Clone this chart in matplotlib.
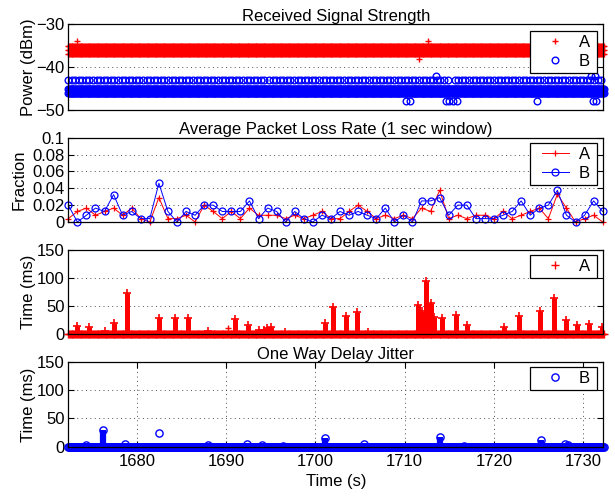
import matplotlib.pyplot as plt
import numpy as np
from matplotlib.legend_handler import HandlerLine2D
from matplotlib.lines import Line2D

plt.rcParams['font.family'] = ['Liberation Sans', 'DejaVu Sans']
plt.rcParams['font.size'] = 12

# time axis (s)
t_start, t_end = 1672.3, 1732.3
sample_dt = 0.1  # sample period of the dense traces
x_limits = (1672.33, 1732.24)
x_ticks = [1680, 1690, 1700, 1710, 1720, 1730]

# received signal strength (dBm)
rss_a_levels = [-35, -36, -37]
rss_a_extra_t = [1673.3, 1711.6, 1712.6]
rss_a_extra_v = [-34, -38, -34]
rss_b_levels = [-45, -46]
rss_b_43_spans = [(1672.3, 1694.4), (1694.8, 1714.9), (1715.6, 1732.3)]
rss_b_extra_t = [1710.2, 1710.6, 1714.6, 1715.0, 1715.4, 1715.9, 1724.8, 1731.1, 1731.4,
                 1713.5, 1730.9, 1731.3]
rss_b_extra_v = [-48, -48, -48, -48, -48, -48, -48, -48, -48,
                 -42, -42, -42]

# packet loss rate, 1 s windows
loss_a = [0.004, 0.0125, 0.0165, 0.008, 0.0125, 0.0165, 0.008, 0.0165, 0.004, 0.0,
          0.029, 0.004, 0.004, 0.008, 0.0, 0.020, 0.0125, 0.004, 0.0125, 0.004,
          0.0165, 0.008, 0.008, 0.008, 0.004, 0.008, 0.004, 0.008, 0.0125, 0.004,
          0.004, 0.0125, 0.020, 0.0125, 0.004, 0.008, 0.004, 0.008, 0.004, 0.0165,
          0.0125, 0.0376, 0.004, 0.008, 0.004, 0.008, 0.008, 0.004, 0.0125, 0.004,
          0.008, 0.0125, 0.0165, 0.004, 0.033, 0.0165, 0.0, 0.004, 0.008, 0.0]
loss_b = [0.020, 0.0, 0.008, 0.0165, 0.0125, 0.0325, 0.008, 0.0125, 0.004, 0.004,
          0.046, 0.0125, 0.0, 0.0125, 0.008, 0.020, 0.020, 0.0125, 0.0125, 0.0125,
          0.025, 0.004, 0.0165, 0.0125, 0.0, 0.0125, 0.004, 0.0, 0.008, 0.004,
          0.0125, 0.008, 0.0125, 0.008, 0.004, 0.0165, 0.0, 0.008, 0.0, 0.025,
          0.025, 0.029, 0.008, 0.020, 0.020, 0.004, 0.004, 0.004, 0.008, 0.0125,
          0.025, 0.008, 0.0165, 0.020, 0.0376, 0.008, 0.0, 0.008, 0.025, 0.0125]
loss_t = np.linspace(1672.33, 1732.17, len(loss_a))

# one way delay jitter (ms): bursts above the ~0 baseline
jit_a_t = [1673.3, 1674.65, 1676.4, 1677.45, 1678.95, 1682.5, 1684.25, 1685.75, 1688.0,
           1691.0, 1692.4, 1693.7, 1694.2, 1694.6, 1695.0, 1696.6, 1701.07, 1702.0,
           1703.4, 1704.7, 1705.9, 1711.5, 1711.9, 1712.36, 1712.95, 1713.3, 1714.2,
           1715.8, 1716.95, 1721.1, 1722.75, 1725.2, 1726.7, 1728.05, 1729.3, 1730.6,
           1732.1]
jit_a_peak = [13, 11, 4, 19, 72, 27, 28, 27, 5,
              26, 16, 6, 6, 9, 12, 3, 18, 48,
              31, 38, 3, 51, 40, 94, 55, 30, 28,
              34, 16, 12, 31, 40, 64, 25, 16, 17,
              12]
jit_a_pt_t = [1690.2]
jit_a_pt_v = [9]

jit_b_t = [1676.2, 1701.07, 1713.96, 1725.3]
jit_b_peak = [30, 15, 18, 12]
jit_b_pt_t = [1682.5, 1674.3, 1678.7, 1688.0, 1692.3, 1694.0, 1696.4, 1705.4, 1716.6,
              1727.9, 1728.3]
jit_b_pt_v = [24, 3, 4, 3, 5, 3, 2, 4, 2, 4, 3]

red = (1, 0, 0)
blue = (0, 0, 1)
ms = 5
ms_o = 4.8
fig = plt.figure(figsize=(6.15, 4.96), dpi=100)

left, width = 68.3 / 615, 535 / 615
rects = [(24.3, 110.0), (137.7, 222.0), (250.0, 333.5), (362.0, 446.7)]
axes = [fig.add_axes([left, (496 - b) / 496, width, (b - t) / 496]) for t, b in rects]


def style_axis(ax, grid_x=False):
    ax.set_xlim(*x_limits)
    for s in ax.spines.values():
        s.set_linewidth(0.9)
    ax.tick_params(direction='in', length=4, width=0.8, top=True, right=True,
                   labelsize=12, pad=2.5)
    ax.tick_params(axis='x', pad=5)
    ax.grid(True, axis='both' if grid_x else 'y', linestyle=(0, (1, 3.5)),
            linewidth=0.7, color='0.3')
    if not grid_x:
        ax.set_xticks([])
    else:
        ax.set_xticks(x_ticks)


def add_legend(ax, handles, labels, top):
    leg = ax.legend(handles, labels, loc='upper left', bbox_to_anchor=(0.863, 0, 0.126, top),
                    mode='expand', borderaxespad=0, borderpad=0.25, labelspacing=0.25,
                    handlelength=2.08, handletextpad=0.58, fancybox=False,
                    framealpha=1, edgecolor='k', fontsize=12,
                    handler_map={Line2D: HandlerLine2D(xpad=0.44)})
    leg.get_frame().set_linewidth(0.9)
    return leg


# --- received signal strength
ax = axes[0]
rss_t = np.arange(t_start, t_end + 0.01, sample_dt)
ha = None
for lv in rss_a_levels:
    ha, = ax.plot(rss_t, np.full(rss_t.shape, lv), '+', color=red, ms=ms, mew=1.0, clip_on=False)
ax.plot(rss_a_extra_t, rss_a_extra_v, '+', color=red, ms=ms, mew=1.0, clip_on=False)
for t0, t1 in rss_b_43_spans:
    tt = np.arange(t0, t1, 4 * sample_dt)
    ax.plot(tt, np.full(tt.shape, -43), 'o', color=blue, mfc='none', ms=ms_o, mew=1.0, clip_on=False)
hb = None
for lv in rss_b_levels:
    hb, = ax.plot(rss_t, np.full(rss_t.shape, lv), 'o', color=blue, mfc='none', ms=ms_o, mew=1.0,
                  clip_on=False)
ax.plot(rss_b_extra_t, rss_b_extra_v, 'o', color=blue, mfc='none', ms=ms_o, mew=1.0, clip_on=False)
ax.set_ylim(-50, -30)
ax.set_yticks([-50, -40, -30])
style_axis(ax)
ax.set_ylabel('Power (dBm)')
ax.yaxis.set_label_coords(-0.061, 0.5)
ax.set_title('Received Signal Strength', fontsize=12, pad=2.5)
add_legend(ax, [ha, hb], ['A', 'B'], 0.922)

# --- packet loss rate
ax = axes[1]
la, = ax.plot(loss_t, loss_a, '-+', color=red, lw=0.7, ms=5, mew=0.9, clip_on=False)
lb, = ax.plot(loss_t, loss_b, '-o', color=blue, lw=0.7, ms=5, mew=0.9, mfc='none', clip_on=False)
ax.set_ylim(0, 0.1)
ax.set_yticks([0, 0.02, 0.04, 0.06, 0.08, 0.1])
ax.set_yticklabels(['0', '0.02', '0.04', '0.06', '0.08', '0.1'])
style_axis(ax)
ax.set_ylabel('Fraction')
ax.yaxis.set_label_coords(-0.077, 0.5)
ax.set_title('Average Packet Loss Rate (1 sec window)', fontsize=12, pad=2.5)
add_legend(ax, [la, lb], ['A', 'B'], 0.941)

# --- jitter A
ax = axes[2]
ja, = ax.plot(rss_t, np.zeros(rss_t.shape), '+', color=red, ms=5.5, mew=1.0, clip_on=False)
ax.vlines(jit_a_t, 0, jit_a_peak, color=red, lw=3.6)
ax.plot(jit_a_t, jit_a_peak, '+', color=red, ms=ms + 1, mew=1.2)
ax.plot(jit_a_pt_t, jit_a_pt_v, '+', color=red, ms=ms, mew=1.0)
ax.set_ylim(0, 150)
ax.set_yticks([0, 50, 100, 150])
style_axis(ax)
ax.set_ylabel('Time (ms)')
ax.yaxis.set_label_coords(-0.061, 0.5)
ax.set_title('One Way Delay Jitter', fontsize=12, pad=2.5)
add_legend(ax, [ja], ['A'], 0.94)

# --- jitter B
ax = axes[3]
jb, = ax.plot(rss_t, np.zeros(rss_t.shape), 'o', color=blue, mfc='none', ms=5.2, mew=1.0,
              clip_on=False)
ax.vlines(jit_b_t, 0, jit_b_peak, color=blue, lw=4.5)
ax.plot(jit_b_t, jit_b_peak, 'o', color=blue, mfc='none', ms=5.2, mew=1.0)
ax.plot(jit_b_pt_t, jit_b_pt_v, 'o', color=blue, mfc='none', ms=5.2, mew=1.0)
ax.set_ylim(0, 150)
ax.set_yticks([0, 50, 100, 150])
style_axis(ax, grid_x=True)
ax.set_ylabel('Time (ms)')
ax.yaxis.set_label_coords(-0.061, 0.5)
ax.set_xlabel('Time (s)', labelpad=4)
ax.set_title('One Way Delay Jitter', fontsize=12, pad=2.5)
add_legend(ax, [jb], ['B'], 0.941)

fig.savefig('out.png', dpi=100)
